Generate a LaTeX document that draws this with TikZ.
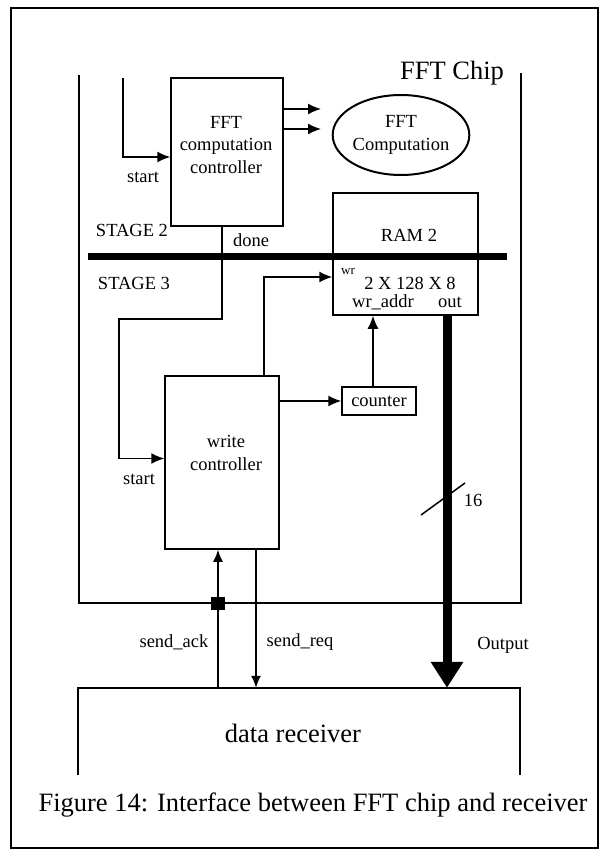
\documentclass[tikz,border=0pt]{standalone}
\usepackage{fontspec}
\setmainfont{Liberation Serif}
\usetikzlibrary{arrows.meta,shapes.geometric,calc}
\begin{document}
\begin{tikzpicture}[x=1pt,y=-1pt,
  box/.style={draw,line width=1.5pt,inner sep=0pt},
  lbl/.style={font=\fontsize{18.5}{22.5}\selectfont,inner sep=0pt,align=center},
  big/.style={font=\fontsize{26.5}{30}\selectfont,inner sep=0pt},
  wire/.style={line width=1.5pt},
  arr/.style={wire,-{Latex[length=13pt,width=11pt]}},
  sarr/.style={wire,-{Latex[length=12pt,width=10pt]}},
]
\useasboundingbox (0,0) rectangle (600,851);
\draw[line width=2.5pt] (11,8) rectangle (598,848);

% chip outline
\coordinate (ctl) at (79,75);
\coordinate (ctr) at (521,73);
\coordinate (cbl) at (79,603);
\coordinate (cbr) at (521,603);
\draw[wire] (ctl) -- (cbl) -- (cbr) -- (ctr);
\node[big] (chip) at (452,73) {FFT Chip};

% FFT computation controller
\node[box,minimum width=112pt,minimum height=148pt] (ctrl) at (227,152) {};
\node[lbl] (ctrlt) at (226,145) {FFT\\computation\\controller};

% FFT computation ellipse
\node[lbl,draw,ellipse,line width=2pt,minimum width=128pt,minimum height=80pt] (comp) at (401,135) {FFT\\Computation};

% RAM
\node[box,minimum width=145pt,minimum height=122pt] (ram) at (405.5,254) {};
\node[lbl] (ramt) at (409,235) {RAM 2};
\node[font=\fontsize{13}{15}\selectfont,inner sep=0pt] (wrl) at (348,271) {wr};
\node[lbl] (size) at (410,283) {2 X 128 X 8};
\node[lbl] (addr) at (383,302) {wr\_addr};
\node[lbl] (outl) at (450,302) {out};

% stage separator
\coordinate (sbl) at (88,256);
\coordinate (sbr) at (507,256);
\draw[line width=7pt] (sbl) -- (sbr);
\node[lbl] (s2) at (132,230) {STAGE 2};
\node[lbl] (s3) at (134,283) {STAGE 3};

% write controller
\node[box,minimum width=114pt,minimum height=173pt] (wc) at (222,462.5) {};
\node[lbl] (wct) at (226,453) {write\\controller};

% counter
\node[box,lbl,minimum width=74pt,minimum height=28pt] (cnt) at (379,401) {counter};

% data receiver
\node[minimum width=442pt,minimum height=87pt,inner sep=0pt] (rcv) at (299,731.5) {};
\draw[wire] (rcv.south west) -- (rcv.north west) -- (rcv.north east) -- (rcv.south east);
\node[big] (rcvt) at (293,733) {data receiver};

% start into controller
\coordinate (s1) at (123,78);
\draw[arr] (s1) |- ([yshift=-5pt]ctrl.west);
\node[lbl] (st1) at (143,177) {start};

% outputs of controller
\coordinate (o1) at (321,109);
\coordinate (o2) at (321,129);
\draw[arr] (ctrl.east |- o1) -- (o1);
\draw[arr] (ctrl.east |- o2) -- (o2);

% done -> start of write controller
\coordinate (dturn) at (119,319);
\draw[arr] ([xshift=-5pt]ctrl.south) |- (dturn) |- ([yshift=4pt]wc.west);
\node[lbl] (dn) at (251,240) {done};
\node[lbl] (st2) at (139,479) {start};

% wr
\draw[arr] ([xshift=42pt]wc.north) |- ([yshift=-23pt]ram.west);

% counter
\draw[arr] (cnt.west -| wc.east) -- (cnt.west);
\coordinate (cn) at ([xshift=-6pt]cnt.north);
\draw[arr] (cn) -- (cn |- ram.south);

% output bus
\coordinate (bus) at ([xshift=41.5pt]ram.south);
\draw[line width=9pt,-{Triangle[length=26pt,width=31pt]}] (bus) -- (bus |- rcv.north);
\coordinate (sl1) at (421,515);
\coordinate (sl2) at (465,483);
\draw[wire] (sl1) -- (sl2);
\node[lbl] (w16) at (473,500) {16};
\node[lbl] (outp) at (503,645) {Output};

% handshake
\coordinate (ak) at ([xshift=-4pt]wc.south);
\draw[sarr] (ak |- rcv.north) -- (ak);
\node[fill,minimum width=14pt,minimum height=13pt,inner sep=0pt] (sq) at (ak |- cbl) {};
\coordinate (rq) at ([xshift=34pt]wc.south);
\draw[sarr] (rq) -- (rq |- rcv.north);
\node[lbl] (ack) at (174,642) {send\_ack};
\node[lbl] (req) at (300,642) {send\_req};

% caption
\node[big] (cap) at (313,805) {Figure 14: Interface between FFT chip and receiver};
\end{tikzpicture}
\end{document}
